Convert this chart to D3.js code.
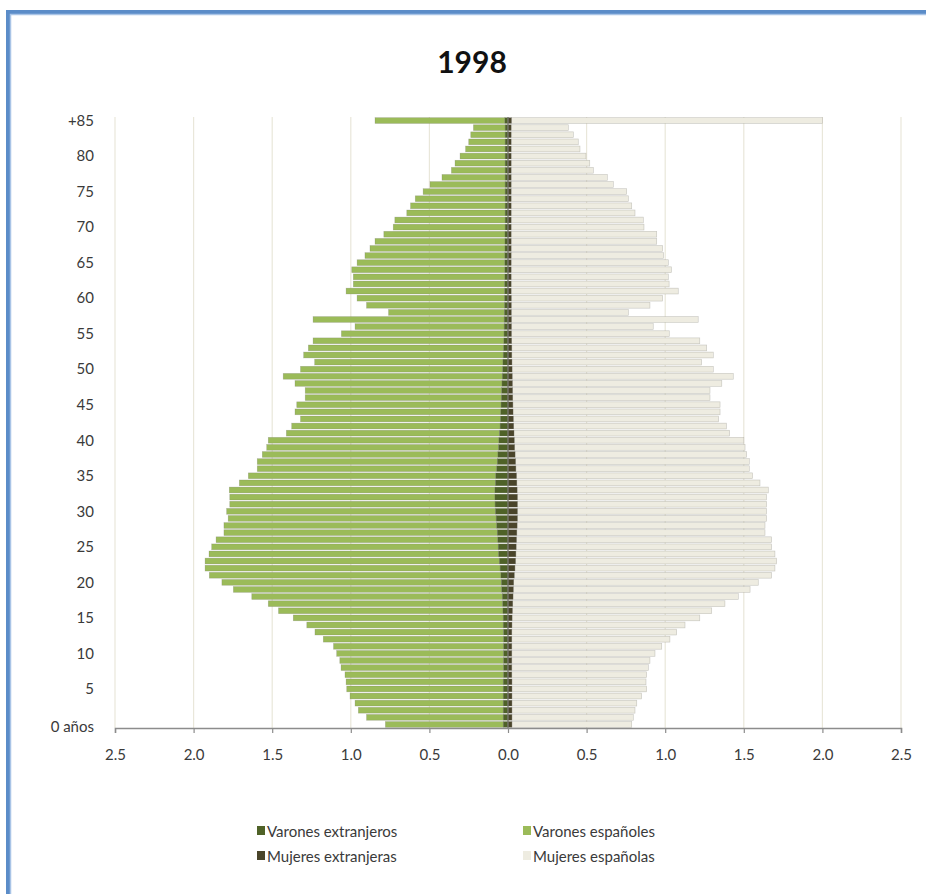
<!DOCTYPE html>
<html>
<head>
<meta charset="utf-8">
<script src="https://cdn.jsdelivr.net/npm/d3@7"></script>
<style>
  html, body { margin: 0; padding: 0; background: #fff; }
  svg { display: block; }
  text { font-family: Lato, "Open Sans", sans-serif; }
</style>
</head>
<body>
<svg id="chart" width="926" height="894"></svg>
<script>
// ---- DATA (percent of total population, ages 0..85+) ----
const title = "1998";
const ages = d3.range(0, 86);
const ageLabels = ages.map(a => a === 0 ? "0 años" : (a === 85 ? "+85" : String(a)));
const xTickValues = [-2.5, -2, -1.5, -1, -0.5, 0, 0.5, 1, 1.5, 2, 2.5];

const varonesTotal = [
  0.78, 0.90, 0.952, 0.973, 1.005, 1.026, 1.03, 1.037, 1.062, 1.07,
  1.09, 1.11, 1.175, 1.228, 1.28, 1.366, 1.46, 1.525, 1.63, 1.747,
  1.82, 1.90, 1.927, 1.927, 1.902, 1.885, 1.857, 1.807, 1.807, 1.78,
  1.79, 1.77, 1.77, 1.773, 1.709, 1.652, 1.595, 1.595, 1.563, 1.535,
  1.525, 1.41, 1.376, 1.32, 1.355, 1.344, 1.29, 1.29, 1.355, 1.43,
  1.32, 1.23, 1.30, 1.27, 1.24, 1.06, 0.973, 1.24, 0.76, 0.90,
  0.96, 1.03, 0.984, 0.984, 0.994, 0.96, 0.91, 0.878, 0.846, 0.79,
  0.73, 0.72, 0.644, 0.62, 0.59, 0.54, 0.496, 0.42, 0.36, 0.337,
  0.305, 0.27, 0.25, 0.237, 0.22, 0.846
];
const varonesExtranjeros = [
  0.030, 0.030, 0.030, 0.030, 0.030, 0.030, 0.030, 0.028, 0.028, 0.028,
  0.028, 0.028, 0.028, 0.028, 0.030, 0.030, 0.032, 0.034, 0.036, 0.040,
  0.042, 0.045, 0.050, 0.055, 0.060, 0.062, 0.065, 0.068, 0.072, 0.075,
  0.080, 0.082, 0.083, 0.083, 0.080, 0.078, 0.072, 0.068, 0.064, 0.060,
  0.058, 0.054, 0.050, 0.048, 0.046, 0.044, 0.042, 0.040, 0.038, 0.036,
  0.034, 0.032, 0.030, 0.028, 0.026, 0.025, 0.024, 0.024, 0.023, 0.022,
  0.022, 0.021, 0.021, 0.020, 0.020, 0.020, 0.020, 0.019, 0.019, 0.019,
  0.018, 0.018, 0.018, 0.018, 0.018, 0.018, 0.018, 0.018, 0.018, 0.018,
  0.018, 0.018, 0.018, 0.018, 0.018, 0.020
];
const mujeresTotal = [
  0.787, 0.797, 0.808, 0.819, 0.85, 0.882, 0.878, 0.882, 0.893, 0.903,
  0.935, 0.978, 1.03, 1.073, 1.126, 1.22, 1.296, 1.38, 1.465, 1.54,
  1.592, 1.677, 1.698, 1.709, 1.698, 1.677, 1.677, 1.635, 1.635, 1.645,
  1.645, 1.645, 1.645, 1.656, 1.603, 1.556, 1.535, 1.535, 1.518, 1.508,
  1.50, 1.41, 1.39, 1.34, 1.349, 1.349, 1.285, 1.285, 1.36, 1.433,
  1.306, 1.232, 1.306, 1.264, 1.22, 1.026, 0.924, 1.21, 0.766, 0.903,
  0.984, 1.083, 1.025, 1.02, 1.04, 1.02, 0.99, 0.984, 0.946, 0.946,
  0.865, 0.861, 0.808, 0.787, 0.766, 0.755, 0.67, 0.632, 0.543, 0.52,
  0.496, 0.458, 0.447, 0.416, 0.384, 2.0
];
const mujeresExtranjeras = [
  0.025, 0.025, 0.025, 0.025, 0.025, 0.025, 0.025, 0.024, 0.024, 0.024,
  0.024, 0.024, 0.024, 0.024, 0.025, 0.026, 0.028, 0.030, 0.032, 0.034,
  0.036, 0.040, 0.044, 0.048, 0.050, 0.052, 0.054, 0.056, 0.058, 0.060,
  0.060, 0.060, 0.060, 0.058, 0.056, 0.054, 0.050, 0.048, 0.045, 0.042,
  0.040, 0.038, 0.036, 0.034, 0.032, 0.031, 0.030, 0.029, 0.028, 0.027,
  0.026, 0.025, 0.024, 0.024, 0.023, 0.022, 0.022, 0.022, 0.021, 0.021,
  0.021, 0.020, 0.020, 0.020, 0.020, 0.020, 0.020, 0.020, 0.020, 0.020,
  0.020, 0.020, 0.020, 0.020, 0.020, 0.020, 0.020, 0.020, 0.020, 0.020,
  0.020, 0.020, 0.020, 0.020, 0.020, 0.022
];
const seriesNames = ["Varones extranjeros", "Varones españoles", "Mujeres extranjeras", "Mujeres españolas"];
const seriesColors = ["#4f6228", "#9bbb59", "#4a452a", "#eeece1"];

// ---- CHART ----
const svg = d3.select("#chart");
const plot = { left: 115, right: 901, top: 117, bottom: 728 };

const x = d3.scaleLinear().domain([-2.5, 2.5]).range([plot.left, plot.right]);
const y = d3.scaleBand().domain(ages.slice().reverse()).range([plot.top, plot.bottom]).paddingInner(0.18).paddingOuter(0.09);

// frame (blue border at top and left)
svg.append("rect").attr("x", 8).attr("y", 12).attr("width", 930).attr("height", 900)
  .attr("fill", "none").attr("stroke", "#5b8cc8").attr("stroke-width", 4);
svg.append("rect").attr("x", 10.5).attr("y", 14.5).attr("width", 930).attr("height", 900)
  .attr("fill", "none").attr("stroke", "#a9c4e6").attr("stroke-width", 1.5);

// title
svg.append("text").attr("x", 472).attr("y", 73).attr("text-anchor", "middle")
  .attr("font-size", 30).attr("font-weight", "bold").attr("fill", "#111").text(title);

// gridlines
svg.append("g").selectAll("line").data(xTickValues.filter(v => v !== 0)).join("line")
  .attr("x1", d => x(d)).attr("x2", d => x(d))
  .attr("y1", plot.top).attr("y2", plot.bottom)
  .attr("stroke", "#e9e7da").attr("stroke-width", 1.2);

// stacked bars
const rows = ages.map((a, i) => ({
  age: a,
  vExt: varonesExtranjeros[i],
  vEsp: varonesTotal[i] - varonesExtranjeros[i],
  mExt: mujeresExtranjeras[i],
  mEsp: mujeresTotal[i] - mujeresExtranjeras[i]
}));

const barG = svg.append("g");
function bars(cls, x0f, x1f, color) {
  barG.append("g").selectAll("rect").data(rows).join("rect")
    .attr("x", d => Math.min(x(x0f(d)), x(x1f(d))))
    .attr("width", d => Math.abs(x(x1f(d)) - x(x0f(d))))
    .attr("y", d => y(d.age))
    .attr("height", y.bandwidth())
    .attr("fill", color)
    .attr("stroke", "rgba(110,110,100,0.35)")
    .attr("stroke-width", 0.6);
}
bars("vEsp", d => -d.vExt, d => -(d.vExt + d.vEsp), seriesColors[1]);
bars("mEsp", d => d.mExt, d => d.mExt + d.mEsp, seriesColors[3]);
bars("vExt", d => 0, d => -d.vExt, seriesColors[0]);
bars("mExt", d => 0, d => d.mExt, seriesColors[2]);

// central category axis
svg.append("line").attr("x1", x(0)).attr("x2", x(0)).attr("y1", plot.top).attr("y2", plot.bottom)
  .attr("stroke", "#7a7a72").attr("stroke-width", 1.3);

// y labels (every 5 years)
const yLabelAges = ages.filter(a => a % 5 === 0 || a === 85);
svg.append("g").selectAll("text").data(yLabelAges).join("text")
  .attr("x", 94).attr("y", a => y(a) + y.bandwidth() / 2 + (a === 0 ? 2 : 0))
  .attr("dy", "0.35em").attr("text-anchor", "end")
  .attr("font-size", 15).attr("fill", "#3a3a3a")
  .text(a => ageLabels[a]);

// x axis
const xAxis = d3.axisBottom(x).tickValues(xTickValues)
  .tickFormat(v => d3.format(".1f")(Math.abs(v))).tickSize(5).tickPadding(16);
const gx = svg.append("g").attr("transform", `translate(0,${plot.bottom})`).call(xAxis);
gx.select(".domain").attr("stroke", "#8c8c8c").attr("stroke-width", 1.5);
gx.selectAll(".tick line").attr("stroke", "#8c8c8c").attr("stroke-width", 1.2);
gx.selectAll(".tick text").attr("font-size", 15).attr("fill", "#3a3a3a")
  .attr("font-family", "Lato, 'Open Sans', sans-serif");

// legend
const legendPos = [[257, 832], [523, 832], [257, 857], [523, 857]];
const legendOrder = [0, 1, 2, 3];
const lg = svg.append("g");
legendOrder.forEach((si, k) => {
  const [lx, ly] = legendPos[k];
  lg.append("rect").attr("x", lx).attr("y", ly - 6).attr("width", 8).attr("height", 9)
    .attr("fill", seriesColors[si]);
  lg.append("text").attr("x", lx + 10).attr("y", ly).attr("dy", "0.35em")
    .attr("font-size", 15).attr("fill", "#3a3a3a").text(seriesNames[si]);
});
</script>
</body>
</html>
